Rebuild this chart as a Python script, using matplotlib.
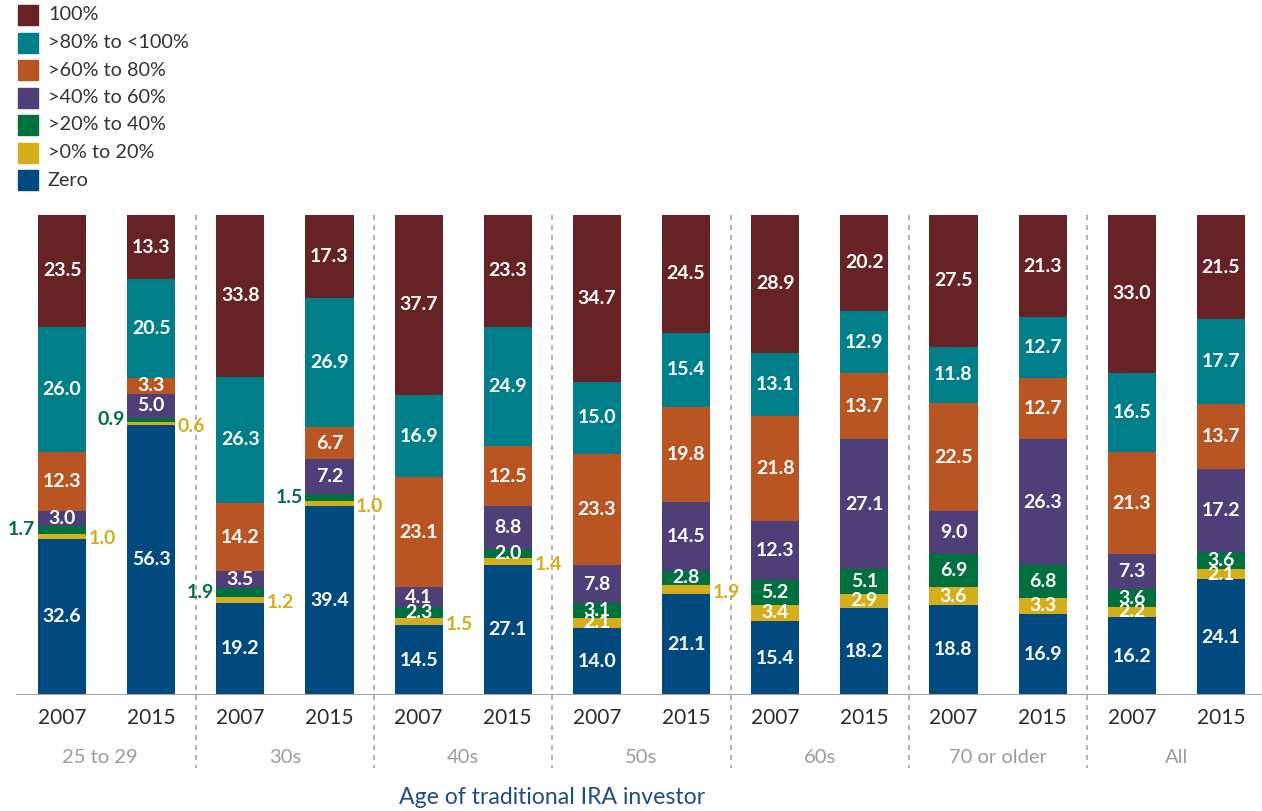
import matplotlib
matplotlib.use('Agg')
import matplotlib.pyplot as plt
from matplotlib.patches import Rectangle
import numpy as np

plt.rcParams['font.family'] = ['Lato', 'DejaVu Sans']

# Bars: age group x year
years = ['2007', '2015'] * 7
groups = ['25 to 29', '30s', '40s', '50s', '60s', '70 or older', 'All']

# share of account in equities (percent of investors), bottom to top
zero = [32.6, 56.3, 19.2, 39.4, 14.5, 27.1, 14.0, 21.1, 15.4, 18.2, 18.8, 16.9, 16.2, 24.1]
p0_20 = [1.0, 0.6, 1.2, 1.0, 1.5, 1.4, 2.1, 1.9, 3.4, 2.9, 3.6, 3.3, 2.2, 2.1]
p20_40 = [1.7, 0.9, 1.9, 1.5, 2.3, 2.0, 3.1, 2.8, 5.2, 5.1, 6.9, 6.8, 3.6, 3.6]
p40_60 = [3.0, 5.0, 3.5, 7.2, 4.1, 8.8, 7.8, 14.5, 12.3, 27.1, 9.0, 26.3, 7.3, 17.2]
p60_80 = [12.3, 3.3, 14.2, 6.7, 23.1, 12.5, 23.3, 19.8, 21.8, 13.7, 22.5, 12.7, 21.3, 13.7]
p80_100 = [26.0, 20.5, 26.3, 26.9, 16.9, 24.9, 15.0, 15.4, 13.1, 12.9, 11.8, 12.7, 16.5, 17.7]
p100 = [23.5, 13.3, 33.8, 17.3, 37.7, 23.3, 34.7, 24.5, 28.9, 20.2, 27.5, 21.3, 33.0, 21.5]

series = [zero, p0_20, p20_40, p40_60, p60_80, p80_100, p100]
names = ['Zero', '>0% to 20%', '>20% to 40%', '>40% to 60%', '>60% to 80%', '>80% to <100%', '100%']
colors = ['#004A80', '#D5AF1B', '#00703E', '#4E3F78', '#B95522', '#007E8A', '#672226']

W, H = 1262, 811
fig = plt.figure(figsize=(W / 100, H / 100), dpi=100)
ax = fig.add_axes([0, (H - 695) / H, 1, 480 / H])
ax.set_xlim(-62 / 89.15, (W - 62) / 89.15)
ax.set_ylim(0, 100)
ax.axis('off')

x = np.arange(len(years))
bottom = np.zeros(len(years))
for k, (vals, c) in enumerate(zip(series, colors)):
    vals = np.array(vals)
    ax.bar(x, vals, width=0.54, bottom=bottom, color=c, linewidth=0)
    for i, v in enumerate(vals):
        mid = bottom[i] + v / 2
        if v >= 2.0:
            ax.text(x[i], mid, f'{v:.1f}', ha='center', va='center', color='white',
                    fontsize=14, fontweight='bold')
        elif k == 1:
            # small yellow segments labelled to the right
            ax.text(x[i] + 0.3, mid - 0.6, f'{v:.1f}', ha='left', va='center', color=c,
                    fontsize=14, fontweight='bold', clip_on=False)
        elif k == 2:
            # small green segments labelled to the left
            ax.text(x[i] - 0.3, mid, f'{v:.1f}', ha='right', va='center', color=c,
                    fontsize=14, fontweight='bold', clip_on=False)
    bottom += vals

# baseline and group separators
ax.axhline(0, xmin=17 / W, xmax=1, color='#A6A6A6', linewidth=1.5)
for s in np.arange(1.5, 12, 2):
    ax.plot([s, s], [100, -15.2], color='#A6A6A6', linewidth=1.2,
            linestyle=(0, (3, 3)), clip_on=False)

# year and group labels
for i, yr in enumerate(years):
    ax.text(x[i], -4.8, yr, ha='center', va='center', color='#2B2B2B', fontsize=15)
group_x = [0.42, 2.5, 4.5, 6.5, 8.5, 10.5, 12.5]
for gx, name in zip(group_x, groups):
    ax.text(gx, -13.1, name, ha='center', va='center', color='#9C9C9C', fontsize=14.5)

fig.text(552 / W, 1 - 797 / H, 'Age of traditional IRA investor', ha='center', va='center',
         color='#1F4E80', fontsize=16.6)

# legend
for j, (name, c) in enumerate(zip(names[::-1], colors[::-1])):
    yc = 15 + j * 27.5
    fig.patches.append(Rectangle((18 / W, 1 - (yc + 10) / H), 20 / W, 20 / H,
                                 transform=fig.transFigure, color=c))
    fig.text(48 / W, 1 - yc / H, name, ha='left', va='center', color='#333333', fontsize=14.3)

plt.savefig('out.png', dpi=100)
